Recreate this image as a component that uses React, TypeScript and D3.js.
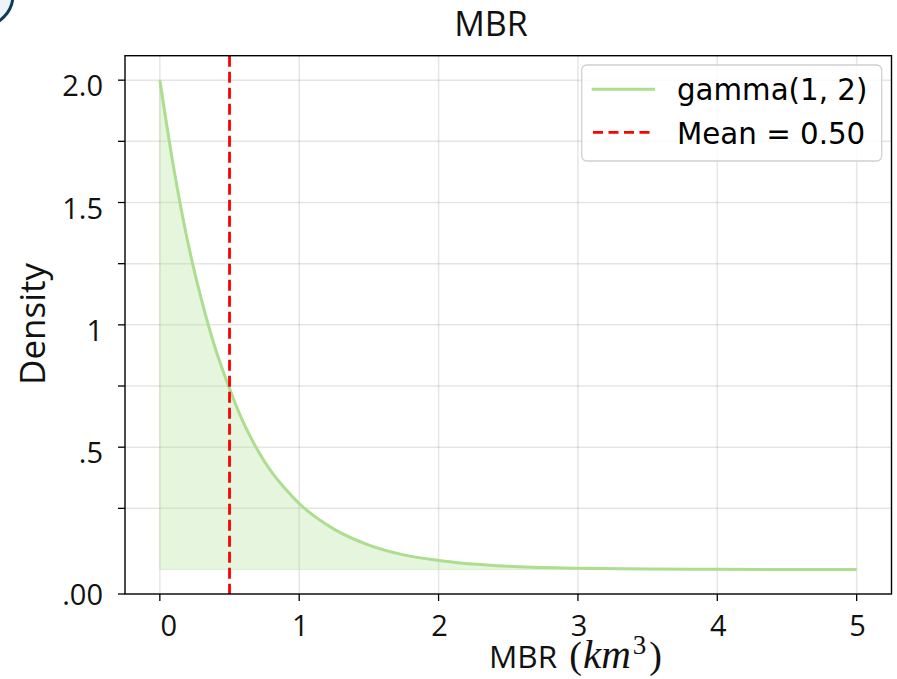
import React from "react";
import * as d3 from "d3";

const xValues = [0, 0.1, 0.2, 0.3, 0.4, 0.5, 0.6, 0.7, 0.8, 0.9, 1.0, 1.25, 1.5, 1.75, 2.0, 2.5, 3.0, 3.5, 4.0, 4.5, 5.0];
const densityValues = [2.0, 1.64, 1.34, 1.1, 0.9, 0.74, 0.6, 0.49, 0.4, 0.33, 0.27, 0.165, 0.1, 0.06, 0.037, 0.013, 0.005, 0.002, 0.001, 0.0, 0.0];
const meanValue = 0.5;
const xTicks = [0, 1, 2, 3, 4, 5];
const xTickLabels = ["0", "1", "2", "3", "4", "5"];
const yTicks = [2.0, 1.5, 1.0, 0.5, -0.1];
const yTickLabels = ["2.0", "1.5", "1", ".5", ".00"];
const yMinorTicks = [1.75, 1.25, 0.75, 0.25];
const legendLabels = ["gamma(1, 2)", "Mean = 0.50"];
const titleText = "MBR";
const yLabelText = "Density";

const W = 897;
const H = 679;
const left = 125;
const right = 891.5;
const top = 55.7;
const bottom = 594;

const sans = "'Open Sans', 'Noto Sans', sans-serif";
const serif = "'Liberation Serif', serif";
const GREEN = "#addd8e";
const RED = "#ff0000";

export default function App() {
  const x = d3.scaleLinear().domain([-0.25, 5.25]).range([left, right]);
  const y = d3.scaleLinear().domain([-0.1, 2.1]).range([bottom, top]);
  const pts = xValues.map((v, i) => [v, densityValues[i]] as [number, number]);
  const line = d3
    .line<[number, number]>()
    .x((d) => x(d[0]))
    .y((d) => y(d[1]))
    .curve(d3.curveMonotoneX);
  const area = d3
    .area<[number, number]>()
    .x((d) => x(d[0]))
    .y0(y(0))
    .y1((d) => y(d[1]))
    .curve(d3.curveMonotoneX);

  const gridColor = "rgba(0,0,0,0.1)";
  return (
    <svg
      width={W}
      height={H}
      style={{ position: "absolute", left: 0, top: 0, background: "#fff" }}
    >
      {/* partial badge in corner */}
      <circle cx={-18} cy={-5} r={31} fill="#eef3f7" stroke="#0f3d57" strokeWidth={3} />

      {/* grid */}
      {xTicks.map((t) => (
        <line key={"gx" + t} x1={x(t)} x2={x(t)} y1={top} y2={bottom} stroke={gridColor} strokeWidth={1.5} />
      ))}
      {[...yTicks.filter((t) => t >= 0), ...yMinorTicks].map((t) => (
        <line key={"gy" + t} x1={left} x2={right} y1={y(t)} y2={y(t)} stroke={gridColor} strokeWidth={1.5} />
      ))}

      {/* fill + curve */}
      <path d={area(pts) || ""} fill={GREEN} fillOpacity={0.3} stroke={GREEN} strokeOpacity={0.35} strokeWidth={1} />
      <path d={line(pts) || ""} fill="none" stroke={GREEN} strokeWidth={3} />

      {/* mean line */}
      <line
        x1={x(meanValue)}
        x2={x(meanValue)}
        y1={top}
        y2={bottom}
        stroke={RED}
        strokeWidth={2.8}
        strokeDasharray="11,5"
      />

      {/* spines */}
      <rect x={left} y={top} width={right - left} height={bottom - top} fill="none" stroke="#000" strokeWidth={1.4} />

      {/* x ticks */}
      {xTicks.map((t, i) => (
        <g key={"xt" + t}>
          <line x1={x(t)} x2={x(t)} y1={bottom} y2={bottom + 7} stroke="#000" strokeWidth={1.3} />
          <text
            x={x(t) + (i === 0 ? 9 : 1)}
            y={636}
            textAnchor="middle"
            fontFamily={sans}
            fontSize={29}
            fill="#111"
          >
            {xTickLabels[i]}
          </text>
        </g>
      ))}

      {/* y ticks */}
      {yTicks.map((t, i) => (
        <g key={"yt" + t}>
          <line x1={left - 7} x2={left} y1={y(t)} y2={y(t)} stroke="#000" strokeWidth={1.3} />
          <text
            x={103}
            y={y(t) + (t < 0 ? 11 : 16)}
            textAnchor="end"
            fontFamily={sans}
            fontSize={29}
            fill="#111"
          >
            {yTickLabels[i]}
          </text>
        </g>
      ))}
      {yMinorTicks.map((t) => (
        <line key={"ym" + t} x1={left - 7} x2={left} y1={y(t)} y2={y(t)} stroke="#000" strokeWidth={1.3} />
      ))}

      {/* title */}
      <text x={491} y={36} textAnchor="middle" fontFamily={sans} fontSize={34} fill="#111">
        {titleText}
      </text>

      {/* y label */}
      <text
        transform={`translate(45,324) rotate(-90)`}
        textAnchor="middle"
        fontFamily={sans}
        fontSize={35}
        fill="#111"
      >
        {yLabelText}
      </text>

      {/* x label */}
      <text x={489} y={668} fontFamily={sans} fontSize={31.5} fill="#111">
        <tspan>MBR </tspan>
        <tspan fontFamily={serif} fontSize={38} dx={4}>(</tspan>
        <tspan fontFamily={serif} fontStyle="italic" fontSize={41} dx={1}>km</tspan>
        <tspan fontFamily={serif} fontSize={27} dy={-14} dx={2}>3</tspan>
        <tspan fontFamily={serif} fontSize={38} dy={14} dx={3}>)</tspan>
      </text>

      {/* legend */}
      <rect x={581.7} y={65} width={300} height={96} rx={5} fill="rgba(255,255,255,0.85)" stroke="#d0d0d0" strokeWidth={1.3} />
      <line x1={591.7} x2={655} y1={89.3} y2={89.3} stroke={GREEN} strokeWidth={3} />
      <line x1={593} x2={655} y1={132.3} y2={132.3} stroke={RED} strokeWidth={2.8} strokeDasharray="10,5.5" />
      <text x={677} y={100} fontFamily="'DejaVu Sans', sans-serif" fontSize={29.3} fill="#000">
        {legendLabels[0]}
      </text>
      <text x={677} y={144} fontFamily="'DejaVu Sans', sans-serif" fontSize={29.3} fill="#000">
        {legendLabels[1]}
      </text>
    </svg>
  );
}
